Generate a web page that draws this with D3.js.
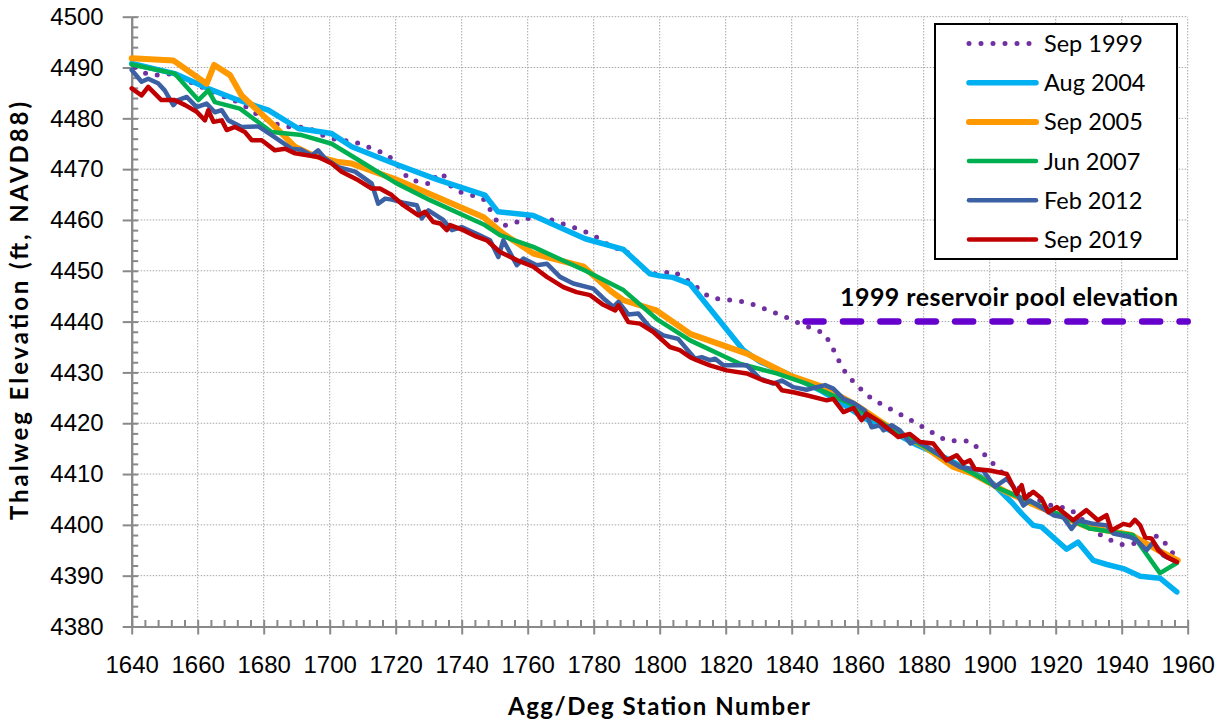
<!DOCTYPE html>
<html>
<head>
<meta charset="utf-8">
<script src="https://cdn.jsdelivr.net/npm/d3@7"></script>
<style>
body { margin: 0; background: #fff; }
svg { display: block; font-family: Lato, "Open Sans", sans-serif; }
.grid line { stroke: #a6a6a6; stroke-width: 1; stroke-dasharray: 1.5,1.5; }
.axis path, .axis line { stroke: #898989; stroke-width: 2; }
.axis text { font-size: 24px; fill: #000; }
</style>
</head>
<body>
<svg id="chart" width="1228" height="725"></svg>
<script>
// station, elevation (ft)
var sep1999 = [[1641,4490],[1645,4488.6],[1649,4488.5],[1652,4488.8],[1659,4486.8],[1667,4484.5],[1673,4483],[1679,4480.3],[1685,4478.6],[1689,4478.2],[1693,4478.3],[1699,4476.3],[1703,4475.7],[1707,4475.5],[1713,4474],[1717,4473],[1720,4471.4],[1722,4469.6],[1724,4468],[1728,4467.4],[1731,4467],[1732.5,4469.1],[1734.5,4468.8],[1736.5,4466.8],[1739.5,4465.5],[1743,4464.9],[1746.5,4464.2],[1748.3,4462.4],[1750,4460.3],[1752.3,4458.8],[1755.7,4459.3],[1759,4460.3],[1766,4460.3],[1769,4459.6],[1776,4458.1],[1780,4457],[1786,4454.4],[1789,4454.4],[1794,4451.2],[1797,4449.4],[1800.6,4449.4],[1804,4450],[1807,4448.7],[1810,4447.5],[1813,4445.7],[1816,4444.6],[1819,4444.4],[1823,4444.1],[1826,4443.9],[1830,4443],[1833,4442.2],[1837,4441.2],[1840,4440.4],[1843,4439.4],[1847,4438.5],[1850,4437.6],[1852,4435.3],[1853.5,4433.4],[1855,4431.3],[1857,4429.3],[1859.5,4427.7],[1862,4426],[1865,4424.5],[1868,4423.5],[1874.5,4421.2],[1881,4418.8],[1884,4417.6],[1887,4416.6],[1894,4416.5],[1897,4414.8],[1902,4411.4],[1907,4408.1],[1912,4406],[1916,4404.5],[1920,4403.5],[1923,4403.4],[1926.4,4402.2],[1931,4398.9],[1934.4,4397.8],[1937.7,4396.6],[1941,4396],[1945,4396.5],[1948,4397.6],[1951,4397.8],[1953.6,4396.1],[1955.6,4394.3],[1957,4393]];
var aug2004 = [[1640,4490.8],[1653,4488.8],[1663,4485.9],[1671,4483.9],[1681.4,4481.6],[1690.5,4478],[1700.6,4477],[1706.7,4474.4],[1718.3,4471.4],[1732.4,4468],[1747,4464.9],[1751,4461.6],[1761.7,4460.9],[1777.4,4456.3],[1789,4454.2],[1797,4449.4],[1800,4449],[1804,4448.7],[1809.2,4447.4],[1825.3,4434.4],[1830.4,4432.1],[1838.5,4429.8],[1848.6,4426.5],[1855,4424],[1862,4421],[1870,4418.5],[1878,4415.7],[1885,4413.7],[1895,4410.3],[1901,4408.1],[1907,4404.2],[1909.7,4402.2],[1913.2,4399.9],[1915.7,4399.6],[1923.3,4395.2],[1926.8,4396.6],[1931.4,4393],[1935.5,4392.2],[1940.5,4391.4],[1945.6,4389.9],[1951.6,4389.5],[1956.7,4386.8]];
var sep2005 = [[1640,4491.8],[1652.6,4491.4],[1662.7,4486.8],[1665,4490.5],[1669.8,4488.5],[1673.3,4484.5],[1682.4,4479],[1689.5,4474.4],[1695,4472.7],[1702.6,4471.4],[1706.7,4471.1],[1720,4468],[1746.5,4460.6],[1752.6,4457.3],[1761.7,4453.4],[1777,4450.8],[1785,4446.1],[1789,4444.2],[1799,4442.2],[1809.2,4437.6],[1826.4,4433.7],[1839.5,4429.4],[1849.6,4427.1],[1859.7,4423.5],[1870,4419],[1880,4415.5],[1889,4411.4],[1895,4410],[1905,4406.5],[1915,4403.5],[1930,4399.5],[1943,4398],[1951,4395],[1957,4393]];
var jun2007 = [[1640,4490.6],[1653,4488.8],[1660.2,4483.6],[1663.2,4485.5],[1665.2,4483.2],[1672.8,4481.9],[1682.4,4477.3],[1691.5,4476.7],[1700.6,4475],[1708.7,4471.8],[1720,4467.3],[1730.4,4463.9],[1747,4459],[1751.6,4457],[1761.7,4454.7],[1777.5,4450],[1789,4446.2],[1799.1,4440.5],[1809.2,4436.3],[1824.3,4431.7],[1835.4,4429.8],[1844.5,4427.8],[1857.6,4423.9],[1862,4422],[1870,4419],[1880,4415.5],[1888,4412.5],[1895,4410.1],[1903,4407.1],[1915.2,4403.8],[1930.3,4399.3],[1943.4,4398],[1951.6,4390.5],[1956.7,4392.5]];
var feb2012 = [[1640,4489.5],[1643,4487.2],[1645,4487.8],[1648,4486.9],[1650,4485.5],[1652.6,4482.6],[1654,4483.6],[1656.7,4484.2],[1659.7,4482.2],[1662.7,4482.9],[1665.2,4481.2],[1667.3,4481.6],[1669.3,4479.6],[1673.3,4478.3],[1678.4,4478.4],[1682.4,4476.7],[1688.5,4474],[1691.5,4473.8],[1694.5,4472.7],[1696.5,4473.7],[1698.6,4472.1],[1702.6,4470.4],[1707.7,4469.5],[1712.7,4467.2],[1714.7,4463.2],[1716.8,4464.2],[1718.8,4464],[1722.3,4463.4],[1726.4,4462.9],[1727.9,4460.3],[1729.9,4461.9],[1734.4,4460],[1737,4458],[1740,4458.6],[1744.5,4457.3],[1748.6,4456],[1751.1,4452.7],[1752.6,4456],[1756.7,4451.1],[1758.7,4452.4],[1762.7,4451.1],[1765.8,4451.4],[1769.8,4448.8],[1773.8,4447.5],[1779.9,4446.5],[1782.9,4444.6],[1786,4442.9],[1787.5,4443.9],[1790.5,4441.4],[1793.5,4441.6],[1797,4438.9],[1801.1,4437.3],[1805.6,4436.6],[1810.7,4432.7],[1812.7,4433],[1815.2,4432.4],[1816.8,4432.7],[1819.3,4431.4],[1826.4,4431.4],[1830.4,4428.8],[1834.4,4427.8],[1837,4428.4],[1840.5,4427.1],[1844.5,4426.6],[1850.1,4427.5],[1852.6,4426.8],[1855.7,4424.8],[1858.7,4424],[1862.2,4422.5],[1864.2,4419.2],[1866.8,4419.6],[1867.8,4418.6],[1870.3,4419.6],[1872.8,4418.6],[1876,4416],[1877.8,4416.6],[1881.9,4415],[1885.9,4413.3],[1891,4411.4],[1898,4410.7],[1901.6,4407.5],[1905.2,4409.1],[1907.2,4407.5],[1910.2,4403.8],[1912.2,4404.8],[1914.7,4403.8],[1919.3,4401.9],[1922.3,4401.5],[1924.8,4399.2],[1926.8,4400.9],[1931.4,4400.2],[1935.5,4399.9],[1937.5,4398.3],[1942.5,4397.6],[1944.5,4397],[1947.5,4395],[1949.6,4396.6],[1952.6,4394],[1956.7,4392.7]];
var sep2019 = [[1640,4485.9],[1643,4484.5],[1645,4486.2],[1649,4483.6],[1653,4483.6],[1656.2,4482.6],[1659.7,4481.3],[1662.2,4479.6],[1663.2,4481.6],[1664.8,4479.3],[1667.3,4479.6],[1668.8,4477.7],[1671.3,4478.3],[1674.3,4477.3],[1676.4,4475.7],[1679.4,4475.7],[1683.4,4473.7],[1686.5,4474],[1689.5,4473.1],[1696.5,4472.4],[1700.6,4471.1],[1703.6,4469.5],[1708.7,4467.8],[1712.7,4466.2],[1715.2,4466.2],[1718.8,4464.9],[1722.3,4462.9],[1726.9,4460.9],[1728.9,4461.6],[1731.4,4459.6],[1733.5,4459.3],[1735.5,4458],[1736.5,4459],[1740.5,4458],[1744.5,4456.7],[1747.6,4456],[1751.6,4453.7],[1756.7,4452.1],[1761.7,4450.8],[1765.8,4448.8],[1770.8,4446.8],[1774.8,4445.8],[1778.9,4445.2],[1782.9,4443.3],[1786.5,4442.2],[1787.5,4443.2],[1790.5,4439.9],[1794,4439.6],[1798,4438],[1803.1,4435],[1806.1,4434.4],[1809.2,4433],[1811.2,4432.4],[1815.2,4431.4],[1820.3,4430.4],[1826.4,4429.8],[1831.4,4428.4],[1835.4,4427.8],[1837,4426.5],[1840.5,4426.1],[1844.5,4425.5],[1850.6,4424.5],[1852.6,4424.8],[1855.7,4422.2],[1858.7,4423],[1861.2,4420.6],[1862.7,4421.9],[1866.8,4420.2],[1872.3,4417.3],[1875.8,4417.9],[1878.9,4416.3],[1882.9,4416],[1886.9,4412.7],[1890,4413.7],[1892,4412.1],[1894,4412.7],[1895.5,4411],[1900.1,4410.7],[1905.2,4410],[1908.2,4406.1],[1909.7,4407.8],[1910.7,4405.2],[1913.2,4406.5],[1915.7,4405.2],[1917.8,4402.5],[1920.3,4403.5],[1925.3,4400.9],[1929.3,4402.9],[1932.8,4400.9],[1935.4,4401.9],[1936.9,4398.9],[1940.5,4400.2],[1942.5,4399.9],[1944,4401],[1945.6,4399.9],[1947.1,4397.6],[1949.1,4397.3],[1951.1,4395],[1953.6,4393.7],[1956.7,4392.7]];

var seriesNames = ["Sep 1999", "Aug 2004", "Sep 2005", "Jun 2007", "Feb 2012", "Sep 2019"];
var seriesData = [sep1999, aug2004, sep2005, jun2007, feb2012, sep2019];

var poolElevation = 4440;
var poolStations = [1844.2, 1960];
var poolLabel = "1999 reservoir pool elevation";

var xDomain = [1640, 1960];
var yDomain = [4380, 4500];

var styles = [
    {color: "#7030a0", width: 5, dash: "0,12"},
    {color: "#00b0f0", width: 5.5, dash: null},
    {color: "#ff9900", width: 6, dash: null},
    {color: "#00b050", width: 4.5, dash: null},
    {color: "#3b60a3", width: 4.5, dash: null},
    {color: "#c00000", width: 4.5, dash: null}
];

var margin = {left: 131.7, right: 1187.7, top: 16.7, bottom: 626.5};

var svg = d3.select("#chart");

var x = d3.scaleLinear().domain(xDomain).range([margin.left, margin.right]);
var y = d3.scaleLinear().domain(yDomain).range([margin.bottom, margin.top]);

// grid
var grid = svg.append("g").attr("class", "grid");
grid.selectAll("line.v")
    .data(d3.range(1660, 1961, 20))
    .enter().append("line")
    .attr("class", "v")
    .attr("x1", function(d) { return x(d); })
    .attr("x2", function(d) { return x(d); })
    .attr("y1", y(yDomain[0]))
    .attr("y2", y(yDomain[1]));
grid.selectAll("line.h")
    .data(d3.range(4390, 4501, 10))
    .enter().append("line")
    .attr("class", "h")
    .attr("x1", x(xDomain[0]))
    .attr("x2", x(xDomain[1]))
    .attr("y1", function(d) { return y(d); })
    .attr("y2", function(d) { return y(d); });

// axes: minor ticks inside, major ticks outside
svg.append("g").attr("class", "axis")
    .attr("transform", "translate(0," + y(yDomain[0]) + ")")
    .call(d3.axisBottom(x).tickValues(d3.range(1640, 1961, 4)).tickSize(-6.5).tickFormat("").tickSizeOuter(0));
svg.append("g").attr("class", "axis")
    .attr("transform", "translate(" + x(xDomain[0]) + ",0)")
    .call(d3.axisLeft(y).tickValues(d3.range(4380, 4501, 2)).tickSize(-6.5).tickFormat("").tickSizeOuter(0));

svg.append("g").attr("class", "axis")
    .attr("transform", "translate(0," + y(yDomain[0]) + ")")
    .call(d3.axisBottom(x).tickValues(d3.range(1640, 1961, 20)).tickSize(8).tickPadding(21)
        .tickFormat(d3.format("d")).tickSizeOuter(0));
svg.append("g").attr("class", "axis")
    .attr("transform", "translate(" + x(xDomain[0]) + ",0)")
    .call(d3.axisLeft(y).tickValues(d3.range(4380, 4501, 10)).tickSize(9).tickPadding(19)
        .tickFormat(d3.format("d")).tickSizeOuter(0));

// series
var line = d3.line()
    .x(function(d) { return x(d[0]); })
    .y(function(d) { return y(d[1]); });

svg.append("g").selectAll("path.series")
    .data(seriesData)
    .enter().append("path")
    .attr("class", "series")
    .attr("d", line)
    .attr("fill", "none")
    .attr("stroke", function(d, i) { return styles[i].color; })
    .attr("stroke-width", function(d, i) { return styles[i].width; })
    .attr("stroke-dasharray", function(d, i) { return styles[i].dash; })
    .attr("stroke-linecap", "round")
    .attr("stroke-linejoin", "round");

// 1999 pool level
svg.append("line")
    .attr("x1", x(poolStations[0]))
    .attr("x2", x(poolStations[1]))
    .attr("y1", y(poolElevation))
    .attr("y2", y(poolElevation))
    .attr("stroke", "#6600cc")
    .attr("stroke-width", 6.5)
    .attr("stroke-linecap", "round")
    .attr("stroke-dasharray", "18,19.4");

svg.append("text")
    .attr("x", 840)
    .attr("y", y(4443))
    .attr("textLength", 338)
    .style("font-size", "25px")
    .style("font-weight", "bold")
    .text(poolLabel);

// legend
var legend = svg.append("g").attr("transform", "translate(935,24)");
legend.append("rect")
    .attr("width", 242)
    .attr("height", 235)
    .attr("fill", "#fff")
    .attr("stroke", "#000")
    .attr("stroke-width", 2);

var items = legend.selectAll("g.item")
    .data(seriesNames)
    .enter().append("g")
    .attr("class", "item")
    .attr("transform", function(d, i) { return "translate(0," + (19.5 + i * 39.2) + ")"; });

items.append("line")
    .attr("x1", 34)
    .attr("x2", function(d, i) { return i === 0 ? 96 : 101; })
    .attr("stroke", function(d, i) { return styles[i].color; })
    .attr("stroke-width", function(d, i) { return styles[i].width; })
    .attr("stroke-dasharray", function(d, i) { return styles[i].dash; })
    .attr("stroke-linecap", "round");

items.append("text")
    .attr("x", 109)
    .attr("dy", "0.36em")
    .style("font-size", "23.5px")
    .text(function(d) { return d; });

// axis titles
svg.append("text")
    .attr("x", 508)
    .attr("y", 715)
    .attr("textLength", 302)
    .style("font-size", "24px")
    .style("font-weight", "bold")
    .text("Agg/Deg Station Number");

svg.append("text")
    .attr("transform", "translate(28.3,520) rotate(-90)")
    .attr("textLength", 418)
    .style("font-size", "24px")
    .style("font-weight", "bold")
    .text("Thalweg Elevation (ft, NAVD88)");
</script>
</body>
</html>
